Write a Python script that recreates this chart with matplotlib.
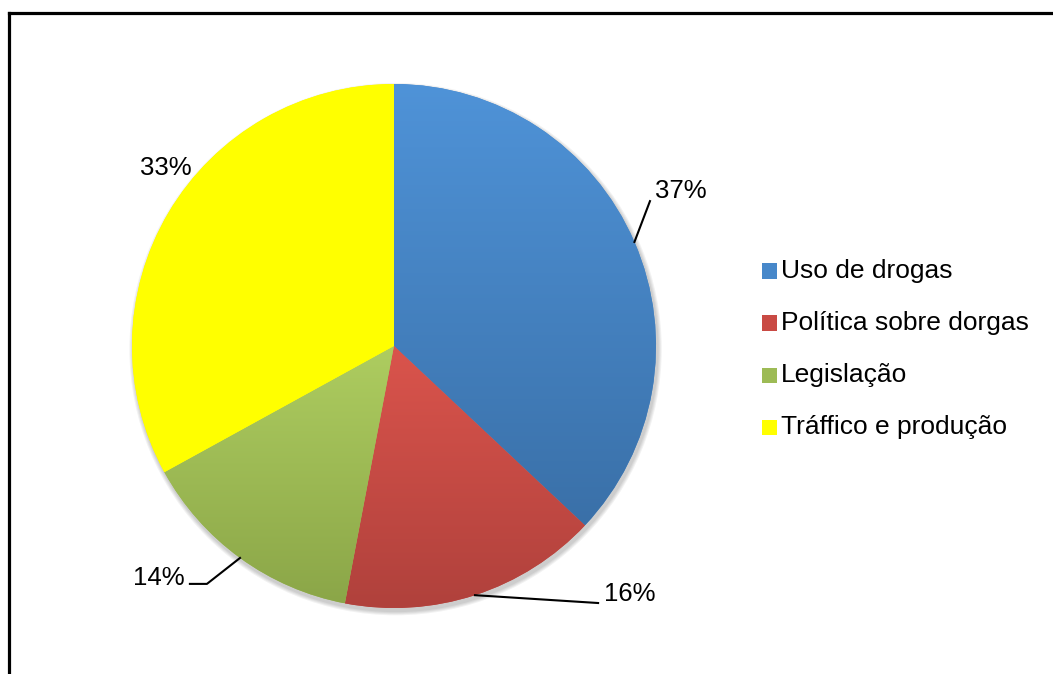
import numpy as np
import matplotlib
matplotlib.use("Agg")
import matplotlib.pyplot as plt
from matplotlib.colors import LinearSegmentedColormap
from matplotlib.patches import Rectangle, Circle
from matplotlib.lines import Line2D

plt.rcParams['font.family'] = ['Liberation Sans', 'DejaVu Sans']

categories = ['Uso de drogas', 'Política sobre dorgas', 'Legislação', 'Tráffico e produção']
values = [37, 16, 14, 33]
labels = ['37%', '16%', '14%', '33%']

# (top colour, bottom colour) for each slice gradient
grad_colors = [('#4F93D8', '#3A70A8'),
               ('#DA544C', '#B0413C'),
               ('#AECD60', '#8BA648'),
               ('#FFFF00', '#FFFF00')]
legend_colors = ['#4788CA', '#C94A44', '#9DBB55', '#FFFF00']

# label text positions and leader line ends, in pie-radius units
text_pos = [(1.095, 0.592), (0.901, -0.947), (-0.897, -0.885), (-0.870, 0.679)]
leader_end = [[(0.977, 0.553)], [(0.779, -0.981)], [(-0.714, -0.908), (-0.779, -0.908)], None]

fig = plt.figure(figsize=(10.53, 6.74), dpi=100)
W, H = 1053, 674
cx, cy, r = 394, 346, 262
ax = fig.add_axes([(cx - r) / W, (H - cy - r) / H, 2 * r / W, 2 * r / H])

# soft shadow behind the pie
for i in range(4):
    ax.add_patch(Circle((0.006, -0.012), 1.0 + 0.004 * (4 - i), color='black',
                        alpha=0.05, lw=0, zorder=0, clip_on=False))

wedges, _ = ax.pie(values, startangle=90, counterclock=False,
                   colors=legend_colors, wedgeprops=dict(linewidth=0))
for w in wedges:
    w.set_zorder(1)
ax.axis('off')

# vertical gradient in each slice
for w, (top, bot) in zip(wedges, grad_colors):
    ext = w.get_path().get_extents()
    cmap = LinearSegmentedColormap.from_list('g', [bot, top])
    grad = np.linspace(0, 1, 256).reshape(-1, 1)
    im = ax.imshow(grad, cmap=cmap, origin='lower', aspect='auto',
                   extent=[ext.x0, ext.x1, ext.y0, ext.y1], zorder=2)
    im.set_clip_path(w)
ax.set_xlim(-1, 1)
ax.set_ylim(-1, 1)
ax.set_aspect('equal')

# labels with leader lines
for w, lab, tp, le in zip(wedges, labels, text_pos, leader_end):
    mid = np.deg2rad((w.theta1 + w.theta2) / 2)
    if le is not None:
        xs = [np.cos(mid)] + [p[0] for p in le]
        ys = [np.sin(mid)] + [p[1] for p in le]
        ax.plot(xs, ys, color='black', lw=1.5, clip_on=False, zorder=3)
    ax.text(tp[0], tp[1], lab, fontsize=18.5, ha='center', va='center', zorder=4)

# legend
lx, ly0, dy, sq = 762, 271, 52, 15
for i, (cat, col) in enumerate(zip(categories, legend_colors)):
    y = ly0 + i * dy
    fig.add_artist(Rectangle((lx / W, (H - y - sq / 2) / H), sq / W, sq / H,
                             transform=fig.transFigure, facecolor=col, lw=0))
    fig.text((lx + 19) / W, (H - y) / H, cat, fontsize=19, ha='left', va='center')

# outer frame (bottom and right cut off)
fig.add_artist(Line2D([9 / W, 9 / W], [0, (H - 13) / H], color='black', lw=2.3,
                      transform=fig.transFigure))
fig.add_artist(Line2D([9 / W, 1], [(H - 13) / H, (H - 13) / H], color='black', lw=2.3,
                      transform=fig.transFigure, solid_capstyle='projecting'))

fig.savefig('out.png', dpi=100)
